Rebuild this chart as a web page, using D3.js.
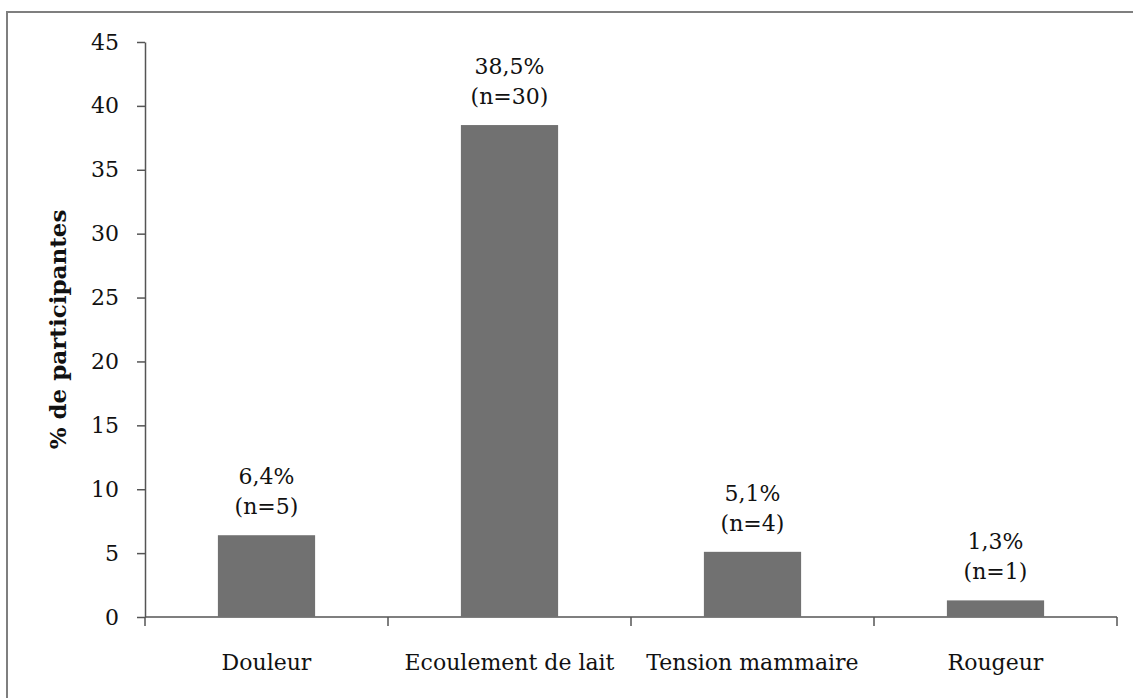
<!DOCTYPE html>
<html>
<head>
<meta charset="utf-8">
<script src="https://cdn.jsdelivr.net/npm/d3@7"></script>
<style>
  body { margin: 0; background: #fff; }
  text { font-family: "DejaVu Serif", "Liberation Serif", serif; fill: #111; }
</style>
</head>
<body>
<div id="chart"></div>
<script>
var categories = ["Douleur", "Ecoulement de lait", "Tension mammaire", "Rougeur"];
var percents = [6.4, 38.5, 5.1, 1.3];
var counts = [5, 30, 4, 1];
var pctLabels = ["6,4%", "38,5%", "5,1%", "1,3%"];
var yTicks = [0, 5, 10, 15, 20, 25, 30, 35, 40, 45];

var width = 1133, height = 698;
var plotLeft = 145, plotRight = 1117, plotTop = 42, plotBottom = 617;
var fontSize = "22px";

var svg = d3.select("#chart").append("svg")
  .attr("width", width)
  .attr("height", height);

// outer frame
svg.append("rect")
  .attr("x", 7).attr("y", 12)
  .attr("width", 1200).attr("height", 800)
  .style("fill", "none")
  .style("stroke", "#7f7f7f")
  .style("stroke-width", 2);

var x = d3.scaleBand()
  .domain(categories)
  .range([plotLeft, plotRight])
  .paddingInner(0.6)
  .paddingOuter(0.3);

var xTicks = d3.scaleLinear().domain([0, categories.length]).range([plotLeft, plotRight]);

var y = d3.scaleLinear()
  .domain([0, 45])
  .range([plotBottom, plotTop]);

// y axis
var yAxis = svg.append("g")
  .attr("transform", "translate(" + plotLeft + ",0)")
  .call(d3.axisLeft(y).tickValues(yTicks).tickSize(8).tickPadding(18).tickSizeOuter(0));
yAxis.attr("font-family", null);
yAxis.select(".domain").style("stroke", "#555").style("stroke-width", 1.5);
yAxis.selectAll(".tick line").style("stroke", "#555").style("stroke-width", 1.5);
yAxis.selectAll(".tick text").style("font-size", fontSize).attr("fill", "#111");

// x axis line with category boundary ticks
var xg = svg.append("g");
xg.append("line")
  .attr("x1", plotLeft).attr("x2", plotRight)
  .attr("y1", y(0)).attr("y2", y(0))
  .style("stroke", "#555").style("stroke-width", 1.5);
xg.selectAll("line.xt")
  .data(d3.range(categories.length + 1)).enter()
  .append("line")
  .attr("class", "xt")
  .attr("x1", function(d) { return xTicks(d); })
  .attr("x2", function(d) { return xTicks(d); })
  .attr("y1", y(0)).attr("y2", y(0) + 9)
  .style("stroke", "#555").style("stroke-width", 1.5);

// bars
svg.selectAll("rect.bar")
  .data(categories).enter()
  .append("rect")
  .attr("class", "bar")
  .attr("x", function(d) { return x(d); })
  .attr("width", x.bandwidth())
  .attr("y", function(d, i) { return y(percents[i]); })
  .attr("height", function(d, i) { return y(0) - y(percents[i]); })
  .style("fill", "#717171");

// value labels
var lab = svg.selectAll("g.lab")
  .data(categories).enter()
  .append("g")
  .attr("class", "lab");
lab.append("text")
  .attr("x", function(d) { return x(d) + x.bandwidth() / 2; })
  .attr("y", function(d, i) { return y(percents[i]) - 51; })
  .attr("text-anchor", "middle")
  .style("font-size", fontSize)
  .text(function(d, i) { return pctLabels[i]; });
lab.append("text")
  .attr("x", function(d) { return x(d) + x.bandwidth() / 2; })
  .attr("y", function(d, i) { return y(percents[i]) - 21; })
  .attr("text-anchor", "middle")
  .style("font-size", fontSize)
  .text(function(d, i) { return "(n=" + counts[i] + ")"; });

// category labels
svg.selectAll("text.cat")
  .data(categories).enter()
  .append("text")
  .attr("class", "cat")
  .attr("x", function(d) { return x(d) + x.bandwidth() / 2; })
  .attr("y", y(0) + 53)
  .attr("text-anchor", "middle")
  .style("font-size", fontSize)
  .text(function(d) { return d; });

// y axis title
svg.append("text")
  .attr("transform", "translate(66," + ((plotTop + plotBottom) / 2) + ") rotate(-90)")
  .attr("text-anchor", "middle")
  .style("font-size", "23px")
  .style("font-weight", "bold")
  .text("% de participantes");
</script>
</body>
</html>
